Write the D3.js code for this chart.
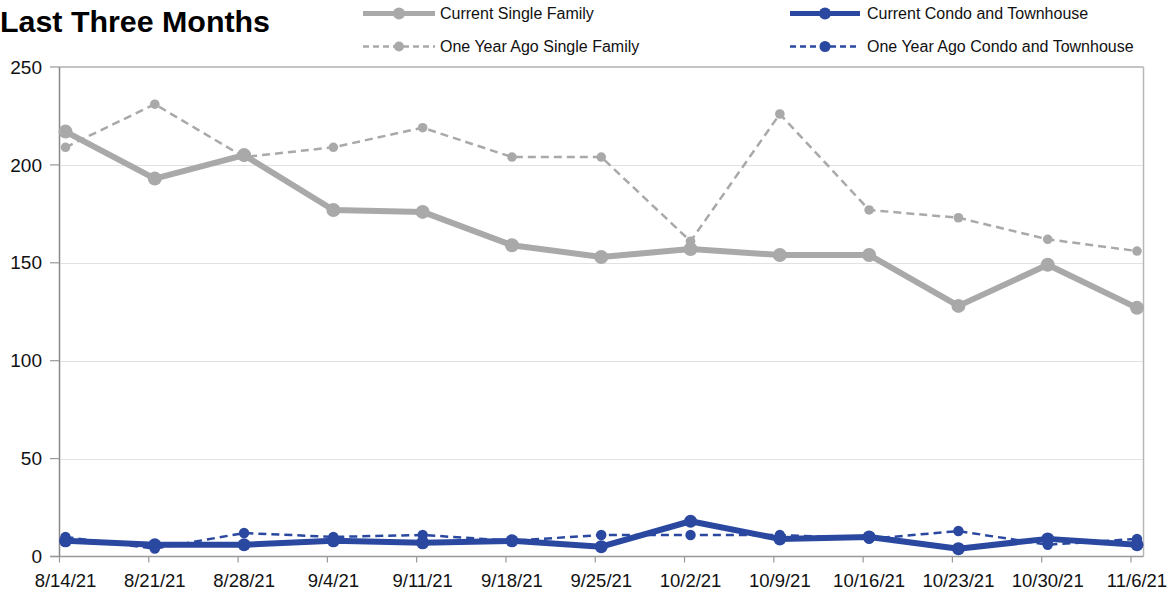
<!DOCTYPE html>
<html>
<head>
<meta charset="utf-8">
<script src="https://cdn.jsdelivr.net/npm/d3@7"></script>
<style>
  html, body { margin: 0; padding: 0; background: #fff; }
  svg { display: block; }
  text { font-family: "Liberation Sans", Arial, Helvetica, sans-serif; fill: #111; }
</style>
</head>
<body>
<svg id="chart" width="1167" height="594"></svg>
<script>
const dates = ["8/14/21","8/21/21","8/28/21","9/4/21","9/11/21","9/18/21","9/25/21","10/2/21","10/9/21","10/16/21","10/23/21","10/30/21","11/6/21"];
const currentSingleFamily = [217,193,205,177,176,159,153,157,154,154,128,149,127];
const yearAgoSingleFamily = [209,231,204,209,219,204,204,161,226,177,173,162,156];
const currentCondo = [8,6,6,8,7,8,5,18,9,10,4,9,6];
const yearAgoCondo = [10,4,12,10,11,8,11,11,11,9,13,6,9];
const yTicks = [0,50,100,150,200,250];
const titleText = "Last Three Months";
const legendLabels = ["Current Single Family","One Year Ago Single Family","Current Condo and Townhouse","One Year Ago Condo and Townhouse"];

const svg = d3.select("#chart");
const gray = "#a9a9a9", blue = "#2a48a0";

const x = d3.scalePoint().domain(dates).range([65.5, 1137]);
const y = d3.scaleLinear().domain([0, 250]).range([556.5, 67]);
const left = 59.5, right = 1143.5;

// title
svg.append("text").attr("x", 0).attr("y", 32)
  .attr("textLength", 270).attr("lengthAdjust", "spacingAndGlyphs")
  .style("font-family", "'Liberation Sans Narrow', 'Liberation Sans', Arial, sans-serif")
  .style("font-weight", "bold").style("font-size", "30px").style("fill", "#000")
  .text(titleText);

// gridlines
svg.append("g").selectAll("line").data(yTicks.filter(d => d > 0 && d < 250)).join("line")
  .attr("x1", left).attr("x2", right)
  .attr("y1", d => Math.round(y(d)) + 0.5).attr("y2", d => Math.round(y(d)) + 0.5)
  .attr("stroke", "#e2e2e2").attr("stroke-width", 1);

// frame top and right
svg.append("line").attr("x1", left).attr("x2", right).attr("y1", y(250)).attr("y2", y(250))
  .attr("stroke", "#b0b0b0").attr("stroke-width", 1.5);
svg.append("line").attr("x1", right).attr("x2", right).attr("y1", y(250)).attr("y2", y(0))
  .attr("stroke", "#b8b8b8").attr("stroke-width", 1.5);

// y axis
svg.append("line").attr("x1", left).attr("x2", left).attr("y1", y(250)).attr("y2", y(0))
  .attr("stroke", "#888").attr("stroke-width", 1.5);
const yg = svg.append("g");
yg.selectAll("line").data(yTicks).join("line")
  .attr("x1", 50).attr("x2", left).attr("y1", d => y(d)).attr("y2", d => y(d))
  .attr("stroke", "#999").attr("stroke-width", 1.2);
yg.selectAll("text").data(yTicks).join("text")
  .attr("x", 42).attr("y", d => y(d)).attr("dy", "0.35em").attr("text-anchor", "end")
  .style("font-size", "19px").text(d => d);

// x axis
svg.append("line").attr("x1", left - 9).attr("x2", right).attr("y1", y(0)).attr("y2", y(0))
  .attr("stroke", "#999").attr("stroke-width", 1.5);
const xg = svg.append("g");
xg.selectAll("line").data(dates).join("line")
  .attr("x1", d => x(d) - 6).attr("x2", d => x(d) - 6).attr("y1", y(0)).attr("y2", y(0) + 6)
  .attr("stroke", "#999").attr("stroke-width", 1.2);
xg.selectAll("text").data(dates).join("text")
  .attr("x", d => x(d)).attr("y", 587).attr("text-anchor", "middle")
  .style("font-size", "18.5px").text(d => d);

// series
const series = [
  {vals: yearAgoSingleFamily, color: gray, width: 2.5, dash: "8,5", r: 4.8},
  {vals: currentSingleFamily, color: gray, width: 6, dash: null, r: 7},
  {vals: yearAgoCondo, color: blue, width: 2.5, dash: "8,5", r: 5.2},
  {vals: currentCondo, color: blue, width: 6, dash: null, r: 6.5}
];
const line = d3.line().x((d, i) => x(dates[i])).y(d => y(d));
series.forEach(s => {
  const g = svg.append("g");
  g.append("path").attr("d", line(s.vals)).attr("fill", "none")
    .attr("stroke", s.color).attr("stroke-width", s.width)
    .attr("stroke-dasharray", s.dash).attr("stroke-linejoin", "round");
  g.selectAll("circle").data(s.vals).join("circle")
    .attr("cx", (d, i) => x(dates[i])).attr("cy", d => y(d)).attr("r", s.r)
    .attr("fill", s.color);
});

// legend
const legend = [
  {label: legendLabels[0], color: gray, width: 5, dash: null, r: 6, x1: 363, x2: 435, tx: 440, yy: 13.5},
  {label: legendLabels[1], color: gray, width: 2.5, dash: "6,4", r: 5, x1: 363, x2: 435, tx: 440, yy: 46.5},
  {label: legendLabels[2], color: blue, width: 5, dash: null, r: 6, x1: 790, x2: 860, tx: 867, yy: 13.5},
  {label: legendLabels[3], color: blue, width: 2.5, dash: "6,4", r: 5.5, x1: 790, x2: 860, tx: 867, yy: 46.5}
];
legend.forEach(l => {
  const g = svg.append("g");
  g.append("line").attr("x1", l.x1).attr("x2", l.x2).attr("y1", l.yy).attr("y2", l.yy)
    .attr("stroke", l.color).attr("stroke-width", l.width).attr("stroke-dasharray", l.dash);
  g.append("circle").attr("cx", (l.x1 + l.x2) / 2).attr("cy", l.yy).attr("r", l.r).attr("fill", l.color);
  g.append("text").attr("x", l.tx).attr("y", l.yy).attr("dy", "0.36em")
    .style("font-size", "16px").text(l.label);
});
</script>
</body>
</html>
